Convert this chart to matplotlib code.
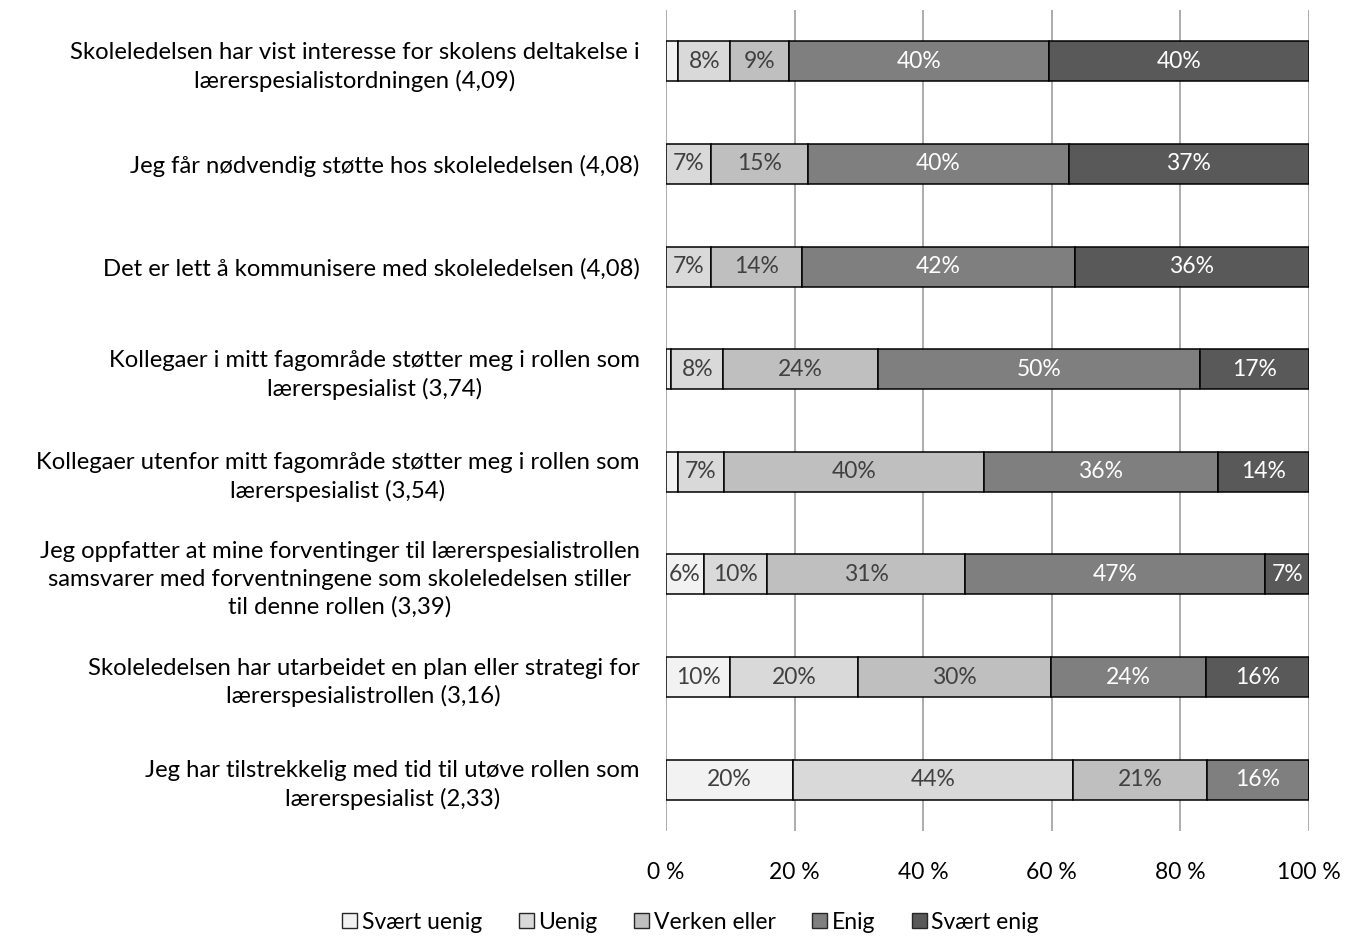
#!/usr/bin/env python
# -*- coding: utf-8 -*-

import numpy as np
import matplotlib
matplotlib.use("Agg")
import matplotlib.pyplot as plt
from matplotlib.patches import Patch

matplotlib.rcParams['font.family'] = ['Lato', 'DejaVu Sans']
matplotlib.rcParams['font.size'] = 17

statements = [
    "Skoleledelsen har vist interesse for skolens deltakelse i\nlærerspesialistordningen (4,09)",
    "Jeg får nødvendig støtte hos skoleledelsen (4,08)",
    "Det er lett å kommunisere med skoleledelsen (4,08)",
    "Kollegaer i mitt fagområde støtter meg i rollen som\nlærerspesialist (3,74)",
    "Kollegaer utenfor mitt fagområde støtter meg i rollen som\nlærerspesialist (3,54)",
    "Jeg oppfatter at mine forventinger til lærerspesialistrollen\nsamsvarer med forventningene som skoleledelsen stiller\ntil denne rollen (3,39)",
    "Skoleledelsen har utarbeidet en plan eller strategi for\nlærerspesialistrollen (3,16)",
    "Jeg har tilstrekkelig med tid til utøve rollen som\nlærerspesialist (2,33)",
]

answers = ["Svært uenig", "Uenig", "Verken eller", "Enig", "Svært enig"]

# share of respondents (%) per answer, one value per statement
svaert_uenig = [1.9, 0.0, 0.0, 0.8, 1.9, 5.9, 10.0, 19.8]
uenig = [8.1, 7.0, 7.0, 8.1, 7.1, 9.8, 19.9, 43.5]
verken_eller = [9.1, 15.1, 14.2, 24.1, 40.5, 30.8, 30.0, 20.8]
enig = [40.5, 40.5, 42.4, 50.0, 36.3, 46.7, 24.1, 15.9]
svaert_enig = [40.4, 37.4, 36.4, 17.0, 14.2, 6.8, 16.0, 0.0]

series = [svaert_uenig, uenig, verken_eller, enig, svaert_enig]
colors = ["#f2f2f2", "#d9d9d9", "#bfbfbf", "#7f7f7f", "#595959"]
text_colors = ["#404040", "#404040", "#404040", "#ffffff", "#ffffff"]

fig = plt.figure(figsize=(13.57, 9.38), dpi=100)
ax = fig.add_axes([0.4908, 0.1141, 0.4738, 0.8752])

y = np.arange(len(statements))
left = np.zeros(len(statements))
for vals, col, tcol in zip(series, colors, text_colors):
    vals = np.array(vals)
    ax.barh(y, vals, left=left, height=0.39, color=col,
            edgecolor="black", linewidth=1.1, zorder=3)
    for yi, (l, v) in enumerate(zip(left, vals)):
        if v >= 4:
            ax.text(l + v / 2, yi, "%.0f%%" % v, ha="center", va="center",
                    color=tcol, fontsize=16.5, zorder=4)
    left += vals

ax.set_xlim(0, 100)
ax.set_ylim(len(statements) - 0.5, -0.5)
ax.set_xticks(np.arange(0, 101, 20))
ax.set_xticklabels(["%d %%" % v for v in range(0, 101, 20)], fontsize=16.5)
ax.set_yticks(y)
ax.set_yticklabels(statements, fontsize=17.2)
for t in ax.get_yticklabels():
    t.set_multialignment("center")
    t.set_linespacing(1.38)
ax.tick_params(axis="both", length=0)
ax.tick_params(axis="x", pad=22)
ax.tick_params(axis="y", pad=19)
ax.grid(axis="x", color="#a6a6a6", linewidth=1.3, zorder=0)
for s in ax.spines.values():
    s.set_visible(False)

handles = [Patch(facecolor=c, edgecolor="#262626", linewidth=1.0) for c in colors]
fig.legend(handles, answers, loc="center", bbox_to_anchor=(0.509, 0.017),
           ncol=5, frameon=False, fontsize=16.5, handlelength=0.65,
           handleheight=0.65, handletextpad=0.2, columnspacing=1.6)

fig.savefig("out.png", dpi=100)
plt.close()
